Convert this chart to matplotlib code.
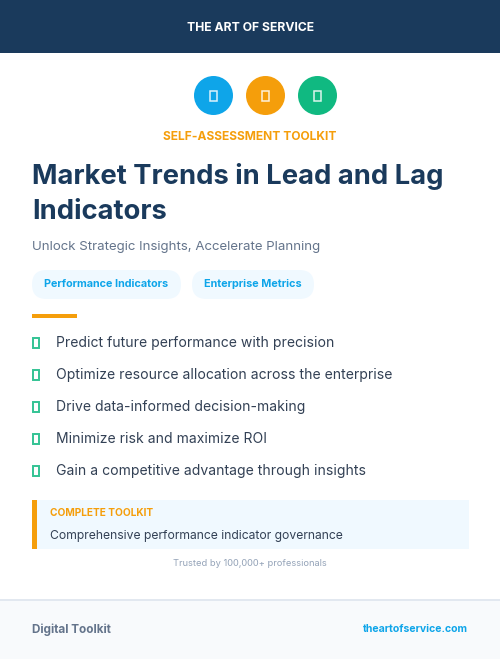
import matplotlib
matplotlib.use("Agg")
from matplotlib import pyplot as plt
from matplotlib.patches import Rectangle, Circle, FancyBboxPatch

plt.rcParams['font.family'] = ['Inter', 'DejaVu Sans']

W, H = 500, 659
NAVY = "#1a3a5c"
BLUE = "#0ea5e9"
ORANGE = "#f59e0b"
GREEN = "#10b981"
PALE = "#f0f9ff"

# テキストと色
brand = "THE ART OF SERVICE"
kicker = "SELF-ASSESSMENT TOOLKIT"
title_lines = ["Market Trends in Lead and Lag", "Indicators"]
subtitle = "Unlock Strategic Insights, Accelerate Planning"
tags = ["Performance Indicators", "Enterprise Metrics"]
bullets = [
    "Predict future performance with precision",
    "Optimize resource allocation across the enterprise",
    "Drive data-informed decision-making",
    "Minimize risk and maximize ROI",
    "Gain a competitive advantage through insights",
]
icon_colors = [BLUE, ORANGE, GREEN]
box_title = "COMPLETE TOOLKIT"
box_text = "Comprehensive performance indicator governance"
trusted = "Trusted by 100,000+ professionals"
footer_left = "Digital Toolkit"
footer_right = "theartofservice.com"


def px(size):
    return size * 0.72


# yはベースライン
def label(ax, x, y, text, size, color, weight="normal", ha="left"):
    ax.text(x, y, text, fontsize=px(size), color=color, fontweight=weight, ha=ha, va="baseline")


fig = plt.figure(figsize=(W / 100, H / 100), dpi=100, facecolor="white")
ax = fig.add_axes([0, 0, 1, 1])
ax.set_xlim(0, W)
ax.set_ylim(H, 0)
ax.axis("off")

# ヘッダー
ax.add_patch(Rectangle((0, 0), W, 53, color=NAVY, lw=0))
label(ax, 250.5, 31, brand, 12.2, "white", "bold", "center")

# アイコン
for cx, c in zip([213.5, 265.5, 317.5], icon_colors):
    ax.add_patch(Circle((cx, 95.5), 19.5, color=c, lw=0))
    ax.add_patch(Rectangle((cx - 3.5, 90.5), 6.5, 10, fill=False, ec="white", lw=1.1, alpha=0.85))

label(ax, 249.5, 140, kicker, 12, ORANGE, "bold", "center")

# タイトル
label(ax, 32, 184, title_lines[0], 27.4, NAVY, "bold")
label(ax, 32, 219, title_lines[1], 27.4, NAVY, "bold")
label(ax, 32, 250, subtitle, 13.25, "#64748b")

# タグ
tag_x = [(32, 181), (192, 314)]
for (x0, x1), t in zip(tag_x, tags):
    ax.add_patch(FancyBboxPatch((x0 + 14.5, 270 + 14.5), x1 - x0 - 29, 0,
                                boxstyle="round,pad=14.5,rounding_size=14.5", fc=PALE, ec="none"))
    label(ax, x0 + 12, 287, t, 10.85, BLUE, "bold")

ax.add_patch(Rectangle((32, 314), 45, 4, color=ORANGE, lw=0))

# 箇条書き
for i, b in enumerate(bullets):
    y = 342.5 + i * 32
    ax.add_patch(Rectangle((32.8, y - 5), 6.2, 10, fill=False, ec=GREEN, lw=1.4, alpha=0.85))
    label(ax, 56, y + 4.5, b, 14, "#334155")

# ボックス
ax.add_patch(Rectangle((32, 500), 437, 49, color=PALE, lw=0))
ax.add_patch(Rectangle((32, 500), 5, 49, color=ORANGE, lw=0))
label(ax, 50, 516, box_title, 10.1, ORANGE, "bold")
label(ax, 50, 539, box_text, 12.15, "#334155")

label(ax, 250, 566, trusted, 9.3, "#94a3b8", "normal", "center")

# フッター
ax.add_patch(Rectangle((0, 599), W, 60, color="#f8fafc", lw=0))
ax.add_patch(Rectangle((0, 599), W, 2, color="#e2e8f0", lw=0))
label(ax, 32, 633, footer_left, 11.7, "#64748b", "bold")
label(ax, 468, 632, footer_right, 10.5, BLUE, "bold", "right")

fig.savefig("out.png", dpi=100)
